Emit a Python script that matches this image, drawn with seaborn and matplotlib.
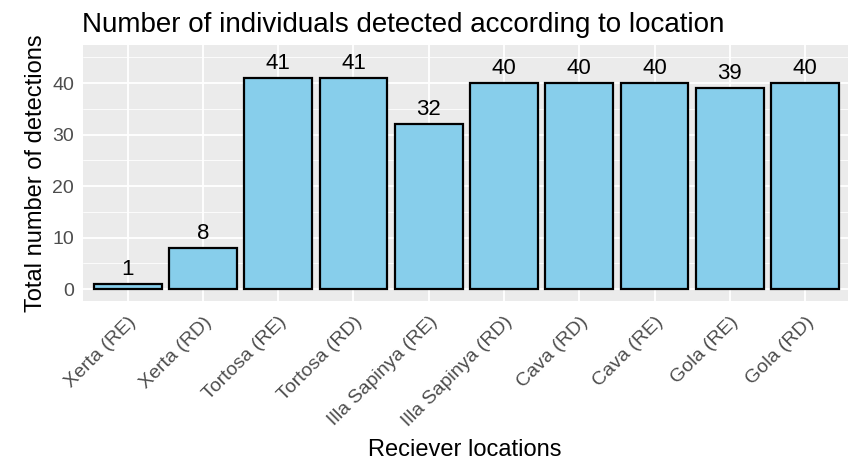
import matplotlib
matplotlib.use("Agg")
import matplotlib.pyplot as plt
from matplotlib.ticker import MultipleLocator
import seaborn as sns
import pandas as pd

locations = ["Xerta (RE)", "Xerta (RD)", "Tortosa (RE)", "Tortosa (RD)",
             "Illa Sapinya (RE)", "Illa Sapinya (RD)", "Cava (RD)", "Cava (RE)",
             "Gola (RE)", "Gola (RD)"]
detections = [1, 8, 41, 41, 32, 40, 40, 40, 39, 40]
y_ticks = [0, 10, 20, 30, 40]

df = pd.DataFrame({"location": locations, "detections": detections})

sns.set_theme(style="darkgrid", rc={
    "axes.facecolor": "#EBEBEB",
    "grid.color": "white",
    "axes.edgecolor": "#EBEBEB",
})
plt.rcParams["font.family"] = ["Liberation Sans", "DejaVu Sans"]

fig = plt.figure(figsize=(8.48, 4.61), dpi=100)
ax = fig.add_axes([82.5 / 848, 1 - 301 / 461, 1 - 82.5 / 848, (301 - 45) / 461])

sns.barplot(data=df, x="location", y="detections", order=locations,
            color="#87CEEB", edgecolor="black", linewidth=1.6, width=0.9,
            saturation=1, ax=ax, zorder=3)

for i, v in enumerate(detections):
    ax.annotate(str(v), (i, v), xytext=(0, 3), textcoords="offset points",
                ha="center", va="bottom", fontsize=16, color="black")

ax.set_xlim(-0.6, 9.57)
ax.set_ylim(-2.33, 47.4)
ax.set_yticks(y_ticks)
ax.yaxis.set_minor_locator(MultipleLocator(5))
ax.grid(which="major", color="white", linewidth=1.3)
ax.grid(which="minor", axis="y", color="white", linewidth=0.6)
ax.set_axisbelow(True)
for s in ax.spines.values():
    s.set_visible(False)

ax.tick_params(axis="both", which="major", length=4, width=1.1, color="#333333",
               labelsize=14, labelcolor="#4D4D4D")
ax.tick_params(axis="y", which="major", pad=2)
ax.tick_params(axis="x", which="major", pad=5)
ax.tick_params(axis="both", which="minor", length=0)
plt.setp(ax.get_xticklabels(), rotation=45, ha="right", rotation_mode="anchor")

ax.set_xlabel("Reciever locations", fontsize=17, color="black", labelpad=6)
ax.set_ylabel("Total number of detections", fontsize=17, color="black", labelpad=4)
ax.set_title("Number of individuals detected according to location",
             fontsize=20, loc="left", pad=9, color="black")

fig.savefig("out.png", dpi=100)
